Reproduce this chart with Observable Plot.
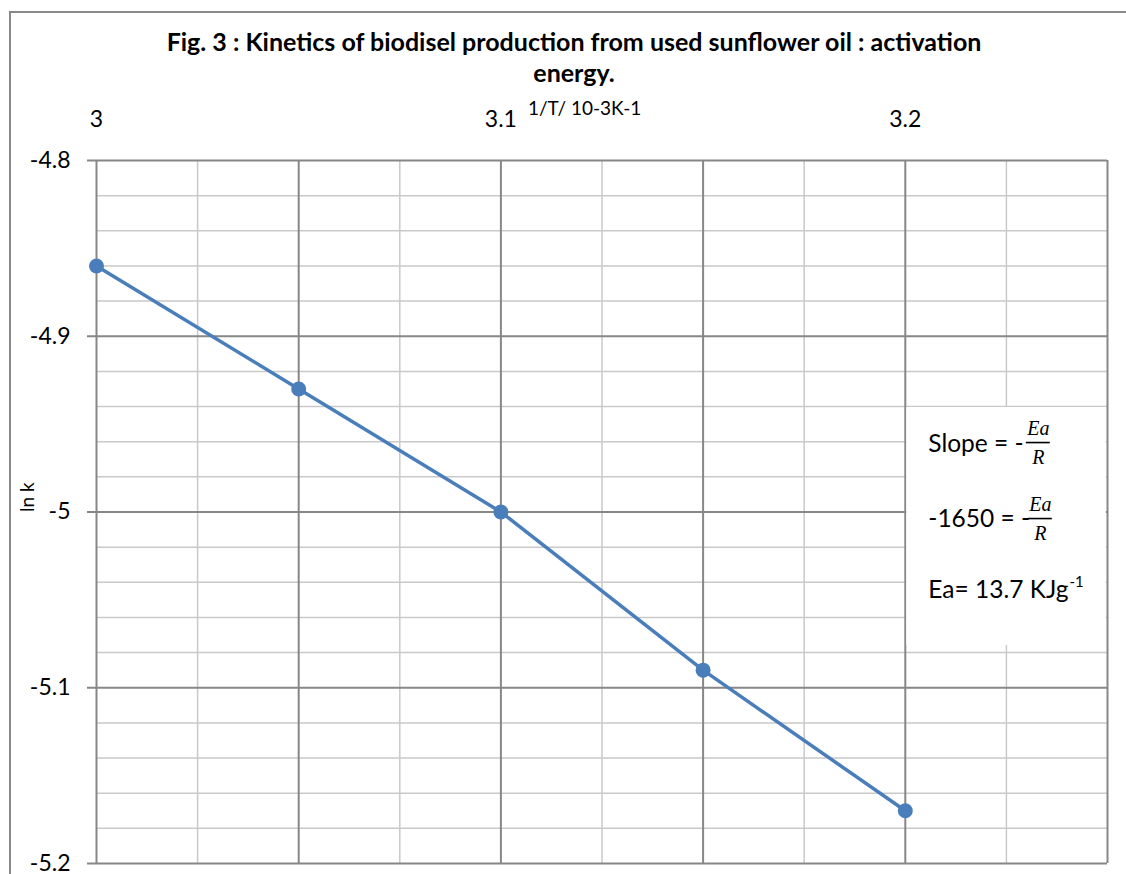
<!DOCTYPE html>
<html>
<head>
<meta charset="utf-8">
<script src="https://cdn.jsdelivr.net/npm/d3@7"></script>
<script src="https://cdn.jsdelivr.net/npm/@observablehq/plot@0.6"></script>
<style>
  html, body { margin: 0; padding: 0; overflow: hidden; background: #fff; }
  body { width: 1126px; height: 874px; font-family: Lato, "Open Sans", sans-serif; }
  #frame {
    margin-left: 9px; margin-top: 11px; width: 1200px; height: 900px;
    border-left: 2px solid #898989; border-top: 2px solid #898989;
  }
  #title {
    width: 1126px; height: 82px; box-sizing: border-box; padding-top: 13px;
    text-align: center; font-weight: bold; font-size: 25px; line-height: 31px; color: #000;
  }
  #chart svg { display: block; }
</style>
</head>
<body>
<div id="frame">
  <div id="title">Fig. 3 : Kinetics of biodisel production from used sunflower oil : activation<br>energy.</div>
  <div id="chart"></div>
</div>
<script>
// ---- data ----
const invT = [3.00, 3.05, 3.10, 3.15, 3.20];          // 1/T / 10^-3 K^-1
const lnK  = [-4.86, -4.93, -5.00, -5.09, -5.17];     // ln k
const xTickLabels = [3, 3.1, 3.2];
const yTickValues = [-4.8, -4.9, -5, -5.1, -5.2];
const xMajorGrid = [3, 3.05, 3.1, 3.15, 3.2, 3.25];
const xMinorGrid = [3.025, 3.075, 3.125, 3.175, 3.225];
const yMinorGrid = [-4.82, -4.84, -4.86, -4.88, -4.92, -4.94, -4.96, -4.98,
                    -5.02, -5.04, -5.06, -5.08, -5.12, -5.14, -5.16, -5.18];
const xAxisTitle = "1/T/ 10-3K-1";
const yAxisTitle = "ln k";
const noteLines = ["Slope = -", "-1650 = -", "Ea= 13.7 KJg"];
const noteSup = "-1";
const fracNum = "Ea", fracDen = "R";

const data = invT.map((x, i) => ({x, y: lnK[i]}));

// ---- layout ----
const W = 1115, H = 779, mL = 85, mR = 19, mT = 65, mB = 11;
const xDomain = [3, 3.25], yDomain = [-5.2, -4.8];
const pxPerX = (W - mL - mR) / (xDomain[1] - xDomain[0]);
const grid = "#878787", gridMinor = "#c9c9c9", blue = "#4a7ebb";
const font = "Lato, 'Open Sans', sans-serif";
const serif = "'Liberation Serif', 'DejaVu Serif', serif";

// annotation box anchored at the 3.2 gridline / -4.94 gridline
const boxX = 3.2, boxTop = -4.94, boxBottom = -5.076;
const px2x = px => boxX + px / pxPerX;
const anchor = [{x: boxX, y: boxTop}];

const noteFont = 24.5, fracFont = 20;
const ctx = document.createElement("canvas").getContext("2d");
ctx.font = `${noteFont}px Lato`;
const eaWidth = ctx.measureText(noteLines[2]).width;

const note = (str, dx, dy, o = {}) => Plot.text(anchor, {x: "x", y: "y", text: () => str, dx, dy,
  fontSize: noteFont, textAnchor: "start", lineAnchor: "bottom", fill: "#000", ...o});

const fraction = (cx, dNum, dDen, dBar) => [
  note(fracNum, cx, dNum, {fontSize: fracFont, fontStyle: "italic", fontFamily: serif, textAnchor: "middle"}),
  note(fracDen, cx, dDen, {fontSize: fracFont, fontStyle: "italic", fontFamily: serif, textAnchor: "middle"}),
  Plot.ruleY([boxTop], {x1: px2x(cx - 12), x2: px2x(cx + 12), dy: dBar, stroke: "#000", strokeWidth: 1.6})
];

const chart = Plot.plot({
  width: W, height: H,
  marginLeft: mL, marginRight: mR, marginTop: mT, marginBottom: mB,
  x: {domain: xDomain, axis: null},
  y: {domain: yDomain, axis: null},
  style: {fontFamily: font, color: "#000", background: "transparent"},
  marks: [
    Plot.ruleX(xMinorGrid, {stroke: gridMinor, strokeWidth: 1.5}),
    Plot.ruleY(yMinorGrid, {stroke: gridMinor, strokeWidth: 1.5}),
    Plot.ruleX(xMajorGrid, {stroke: grid, strokeWidth: 2}),
    Plot.ruleY(yTickValues, {stroke: grid, strokeWidth: 2}),
    // white text box
    Plot.rect([{x1: boxX, x2: xDomain[1], y1: boxTop, y2: boxBottom}],
      {x1: "x1", x2: "x2", y1: "y1", y2: "y2", fill: "white",
       insetLeft: 1.5, insetRight: 1.2, insetTop: 1}),
    // y axis
    Plot.axisY({ticks: yTickValues, tickSize: 9, tickPadding: 17, tickFormat: d => String(d),
      fontSize: 23, stroke: grid, strokeWidth: 2, fill: "#000", label: null}),
    Plot.text([yAxisTitle], {frameAnchor: "left", rotate: -90, dx: -69, fontSize: 19, fill: "#000"}),
    // x axis (top) labels
    Plot.text(xTickLabels, {x: d => d, y: () => yDomain[1], dy: -34, text: d => String(d),
      lineAnchor: "bottom", fontSize: 23, fill: "#000"}),
    Plot.text([{x: 3.1, t: xAxisTitle}], {x: "x", y: () => yDomain[1], text: "t", dx: 27, dy: -46,
      lineAnchor: "bottom", textAnchor: "start", fontSize: 19, fill: "#000"}),
    // data
    Plot.line(data, {x: "x", y: "y", stroke: blue, strokeWidth: 3.5}),
    Plot.dot(data, {x: "x", y: "y", r: 7.5, fill: blue, stroke: "none"}),
    // annotation text
    note(noteLines[0], 23, 45),
    note(noteLines[1], 23, 120),
    note(noteLines[2], 23, 191),
    note(noteSup, 23 + eaWidth + 1, 180, {fontSize: 15}),
    ...fraction(133, 28, 57, 36),
    ...fraction(135, 104, 133, 112)
  ]
});
document.getElementById("chart").append(chart);
</script>
</body>
</html>
